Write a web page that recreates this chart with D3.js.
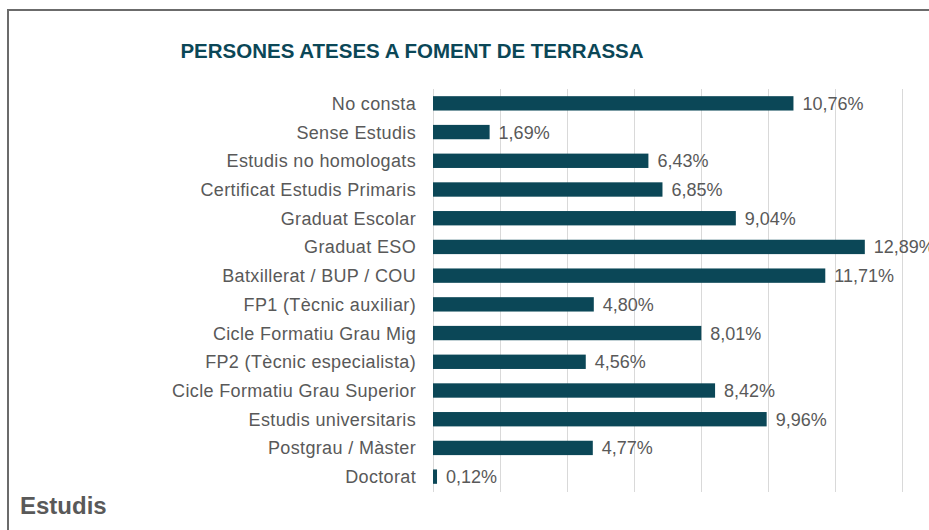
<!DOCTYPE html>
<html>
<head>
<meta charset="utf-8">
<script src="https://cdn.jsdelivr.net/npm/d3@7"></script>
<style>
  html, body { margin: 0; padding: 0; background: #fff; }
  svg { display: block; font-family: "Liberation Sans", Arial, sans-serif; }
  .grid line { stroke: #d9d9d9; stroke-width: 1; }
  .cat { fill: #595959; font-size: 18px; letter-spacing: 0.35px; }
  .val { fill: #595959; font-size: 18px; }
</style>
</head>
<body>
<svg></svg>
<script>
var categories = [
    "No consta", "Sense Estudis", "Estudis no homologats", "Certificat Estudis Primaris",
    "Graduat Escolar", "Graduat ESO", "Batxillerat / BUP / COU", "FP1 (Tècnic auxiliar)",
    "Cicle Formatiu Grau Mig", "FP2 (Tècnic especialista)", "Cicle Formatiu Grau Superior",
    "Estudis universitaris", "Postgrau / Màster", "Doctorat"
];
var values = [10.76, 1.69, 6.43, 6.85, 9.04, 12.89, 11.71, 4.80, 8.01, 4.56, 8.42, 9.96, 4.77, 0.12];
var gridTicks = [0, 2, 4, 6, 8, 10, 12, 14];

var width = 929,
    height = 530;

var svg = d3.select("svg")
    .attr("width", width)
    .attr("height", height);

// frame
svg.append("path")
    .attr("d", "M8,540V10H940")
    .attr("fill", "none")
    .attr("stroke", "#6b6b6b")
    .attr("stroke-width", 2);

var x = d3.scaleLinear().domain([0, 14]).range([433, 902]);
var y = d3.scaleBand().domain(categories).range([89, 491]).paddingInner(0.5).paddingOuter(0.25);

svg.append("g")
    .attr("class", "grid")
    .selectAll("line")
    .data(gridTicks)
    .enter().append("line")
    .attr("x1", function(d) { return Math.round(x(d)) + 0.5; })
    .attr("x2", function(d) { return Math.round(x(d)) + 0.5; })
    .attr("y1", 89)
    .attr("y2", 492);

svg.selectAll(".bar")
    .data(values)
    .enter().append("rect")
    .attr("class", "bar")
    .attr("x", x(0))
    .attr("y", function(d, i) { return y(categories[i]); })
    .attr("width", function(d) { return Math.max(2, x(d) - x(0)); })
    .attr("height", y.bandwidth())
    .attr("fill", "#0b4757");

svg.selectAll(".cat")
    .data(categories)
    .enter().append("text")
    .attr("class", "cat")
    .attr("x", 416)
    .attr("y", function(d) { return y(d) + y.bandwidth() / 2; })
    .attr("dy", "0.36em")
    .attr("text-anchor", "end")
    .text(function(d) { return d; });

svg.selectAll(".val")
    .data(values)
    .enter().append("text")
    .attr("class", "val")
    .attr("x", function(d) { return x(d) + 9; })
    .attr("y", function(d, i) { return y(categories[i]) + y.bandwidth() / 2; })
    .attr("dy", "0.36em")
    .text(function(d) { return d.toFixed(2).replace(".", ",") + "%"; });

svg.append("text")
    .attr("x", 412)
    .attr("y", 58)
    .attr("text-anchor", "middle")
    .attr("fill", "#0b4757")
    .style("font-size", "20.5px")
    .style("font-weight", "bold")
    .text("PERSONES ATESES A FOMENT DE TERRASSA");

svg.append("text")
    .attr("x", 20)
    .attr("y", 514)
    .attr("fill", "#595959")
    .style("font-size", "24px")
    .style("font-weight", "bold")
    .text("Estudis");
</script>
</body>
</html>
